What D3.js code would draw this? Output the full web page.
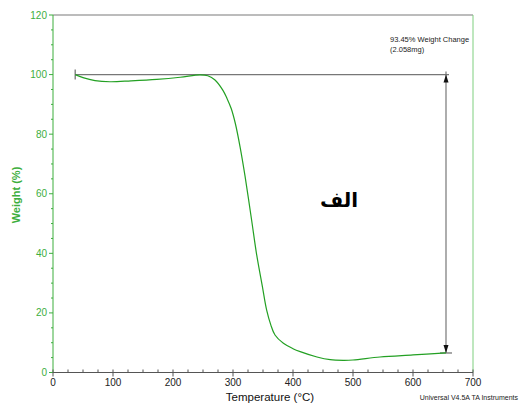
<!DOCTYPE html>
<html><head><meta charset="utf-8">
<script src="https://cdn.jsdelivr.net/npm/d3@7"></script>
<style>body{margin:0;background:#fff}svg{display:block;font-family:"Liberation Sans",Arial,sans-serif}</style>
</head><body><svg id="c" width="521" height="405"></svg>
<script>
const temperature = [37, 50, 70, 95, 130, 173, 212, 245, 258, 270, 283, 290, 297, 304, 312, 320, 331, 339, 349, 356, 363, 370, 384, 400, 412, 440, 462, 484, 500, 545, 600, 655];
const weight = [100, 99.0, 98.0, 97.6, 97.9, 98.4, 99.1, 99.9, 99.6, 98.2, 94.8, 92, 88.6, 83.5, 75.5, 66, 51.2, 40.1, 28.8, 21, 16, 12.6, 9.8, 8.0, 7.0, 5.2, 4.3, 4.1, 4.2, 5.2, 5.9, 6.6];
const xTicks = [0, 100, 200, 300, 400, 500, 600, 700];
const yTicks = [0, 20, 40, 60, 80, 100, 120];
const stepStart = 37, stepEnd = 655, levelHigh = 100, levelLow = 6.55;
const annotation = ["93.45% Weight Change", "(2.058mg)"];

const svg = d3.select("#c");
const x = d3.scaleLinear().domain([0, 700]).range([53, 473]);
const y = d3.scaleLinear().domain([0, 120]).range([372.5, 15]);
const green = "#3dae3d", curveGreen = "#23a023";

// frame top and right
svg.append("line").attr("x1", x(0)).attr("x2", x(700)).attr("y1", y(120)).attr("y2", y(120)).attr("stroke", "#7a7a7a").attr("stroke-width", 1.2);
svg.append("line").attr("x1", x(700)).attr("x2", x(700)).attr("y1", y(120)).attr("y2", y(0)).attr("stroke", "#7fcf7f").attr("stroke-width", 1);

// y axis
const ya = svg.append("g").attr("transform", `translate(${x(0)},0)`);
ya.append("line").attr("y1", y(0)).attr("y2", y(120)).attr("stroke", green).attr("stroke-width", 1);
ya.selectAll(".mn").data(d3.range(0, 121, 5)).join("line").attr("x1", d => d % 20 === 0 ? -4 : -2).attr("x2", 0)
  .attr("y1", d => y(d)).attr("y2", d => y(d)).attr("stroke", green);
ya.selectAll("text").data(yTicks).join("text").attr("x", -6).attr("y", d => y(d)).attr("dy", "0.35em")
  .attr("text-anchor", "end").attr("font-size", 10).attr("fill", green).text(d => d);

// x axis
const xa = svg.append("g").attr("transform", `translate(0,${y(0)})`);
xa.append("line").attr("x1", x(0)).attr("x2", x(700)).attr("stroke", "#555").attr("stroke-width", 1);
xa.selectAll(".mn").data(d3.range(0, 701, 25)).join("line").attr("x1", d => x(d)).attr("x2", d => x(d))
  .attr("y1", -3).attr("y2", d => d % 100 === 0 ? 4 : 0).attr("stroke", "#555");
xa.selectAll("text").data(xTicks).join("text").attr("x", d => x(d)).attr("y", 13)
  .attr("text-anchor", "middle").attr("font-size", 10).attr("fill", "#222").text(d => d);

// labels
svg.append("text").attr("x", 270).attr("y", 401).attr("text-anchor", "middle").attr("font-size", 11.5).attr("fill", "#111").text("Temperature (°C)");
svg.append("text").attr("transform", "translate(20,195) rotate(-90)").attr("text-anchor", "middle").attr("font-size", 11).attr("font-weight", "bold").attr("fill", green).text("Weight (%)");
svg.append("text").attr("x", 518).attr("y", 400).attr("text-anchor", "end").attr("font-size", 7).attr("fill", "#222").text("Universal V4.5A TA Instruments");

// step annotation lines
const gray = "#777";
svg.append("line").attr("x1", x(stepStart)).attr("x2", x(stepEnd) + 3).attr("y1", y(levelHigh)).attr("y2", y(levelHigh)).attr("stroke", gray).attr("stroke-width", 1.3);
svg.append("line").attr("x1", x(stepStart)).attr("x2", x(stepStart)).attr("y1", y(levelHigh) - 5).attr("y2", y(levelHigh) + 5).attr("stroke", gray).attr("stroke-width", 1.3);
svg.append("line").attr("x1", x(stepEnd) - 6).attr("x2", x(stepEnd) + 6).attr("y1", y(levelLow)).attr("y2", y(levelLow)).attr("stroke", gray).attr("stroke-width", 1.3);
svg.append("line").attr("x1", x(stepEnd)).attr("x2", x(stepEnd)).attr("y1", y(levelHigh) - 3).attr("y2", y(levelLow)).attr("stroke", gray).attr("stroke-width", 1.2);
// arrowheads
const ax = x(stepEnd);
svg.append("path").attr("d", `M${ax},${y(levelHigh)}l-2.5,8l5,0z`).attr("fill", "#111");
svg.append("path").attr("d", `M${ax},${y(levelLow)}l-2.5,-8l5,0z`).attr("fill", "#111");

// curve
const pts = temperature.map((t, i) => [t, weight[i]]);
svg.append("path").datum(pts).attr("fill", "none").attr("stroke", curveGreen).attr("stroke-width", 1.2)
  .attr("d", d3.line().x(d => x(d[0])).y(d => y(d[1])).curve(d3.curveCatmullRom.alpha(0.5)));

// annotation text
svg.selectAll(".ann").data(annotation).join("text").attr("x", 390).attr("y", (d, i) => 42 + i * 10)
  .attr("font-size", 7.5).attr("fill", "#222").text(d => d);

svg.append("text").attr("x", 339).attr("y", 207).attr("text-anchor", "middle").attr("font-size", 20).attr("font-weight", "bold")
  .attr("font-family", "DejaVu Sans, sans-serif").attr("fill", "#000").text("الف");
</script></body></html>
